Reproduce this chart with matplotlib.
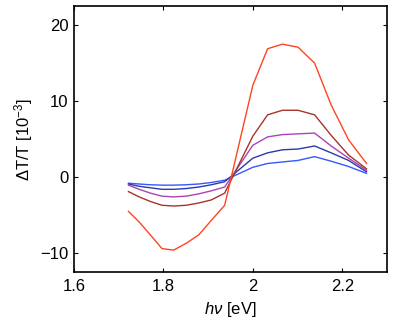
import numpy as np
import matplotlib.pyplot as plt

plt.rcParams['font.family'] = ['Liberation Sans', 'DejaVu Sans']
plt.rcParams['mathtext.fontset'] = 'custom'
plt.rcParams['mathtext.rm'] = 'Liberation Sans'
plt.rcParams['mathtext.it'] = 'Liberation Sans:italic'

# photon energy (eV)
energy = [1.722, 1.746, 1.771, 1.797, 1.823, 1.851, 1.879, 1.907, 1.937,
          2.0, 2.033, 2.066, 2.101, 2.138, 2.175, 2.214, 2.254]

# dT/T in units of 1e-3
red = [-4.5, -5.9, -7.6, -9.4, -9.6, -8.7, -7.6, -5.7, -3.7,
       12.1, 16.9, 17.5, 17.1, 15.0, 9.5, 4.9, 1.8]
brown = [-1.9, -2.6, -3.2, -3.7, -3.8, -3.7, -3.4, -3.0, -2.1,
         5.4, 8.2, 8.8, 8.8, 8.2, 5.5, 2.9, 1.1]
purple = [-1.05, -1.6, -2.1, -2.5, -2.6, -2.5, -2.2, -1.8, -1.3,
          4.2, 5.3, 5.6, 5.7, 5.8, 4.1, 2.5, 0.9]
darkblue = [-0.9, -1.2, -1.4, -1.6, -1.6, -1.5, -1.3, -1.0, -0.6,
            2.5, 3.2, 3.6, 3.7, 4.1, 3.2, 2.2, 0.7]
blue = [-0.8, -0.9, -1.0, -1.05, -1.05, -1.0, -0.9, -0.7, -0.4,
        1.3, 1.8, 2.0, 2.2, 2.7, 2.1, 1.4, 0.5]

fig = plt.figure(figsize=(3.95, 3.24), dpi=100)
ax = fig.add_axes([0.187, 0.160, 0.793, 0.821])

ax.plot(energy, blue, color='#3558ff', lw=1)
ax.plot(energy, darkblue, color='#2a3aa8', lw=1)
ax.plot(energy, purple, color='#a844b8', lw=1)
ax.plot(energy, brown, color='#a83428', lw=1)
ax.plot(energy, red, color='#ff4422', lw=1)

ax.set_xlim(1.6, 2.3)
ax.set_ylim(-12.5, 22.5)
ax.set_xticks([1.6, 1.8, 2.0, 2.2])
ax.set_xticklabels(['1.6', '1.8', '2', '2.2'])
ax.set_yticks([-10, 0, 10, 20])
ax.tick_params(direction='in', top=True, right=True, labelsize=12, length=3, width=0.8)
ax.tick_params(axis='x', pad=5)
ax.tick_params(axis='y', pad=4)
for s in ax.spines.values():
    s.set_linewidth(1.2)

ax.set_xlabel(r'$h\nu$ [eV]', fontsize=12, labelpad=4)
ax.set_ylabel(r'$\Delta$T/T [10$^{-3}$]', fontsize=12, labelpad=4)

fig.savefig('out.png', dpi=100)
